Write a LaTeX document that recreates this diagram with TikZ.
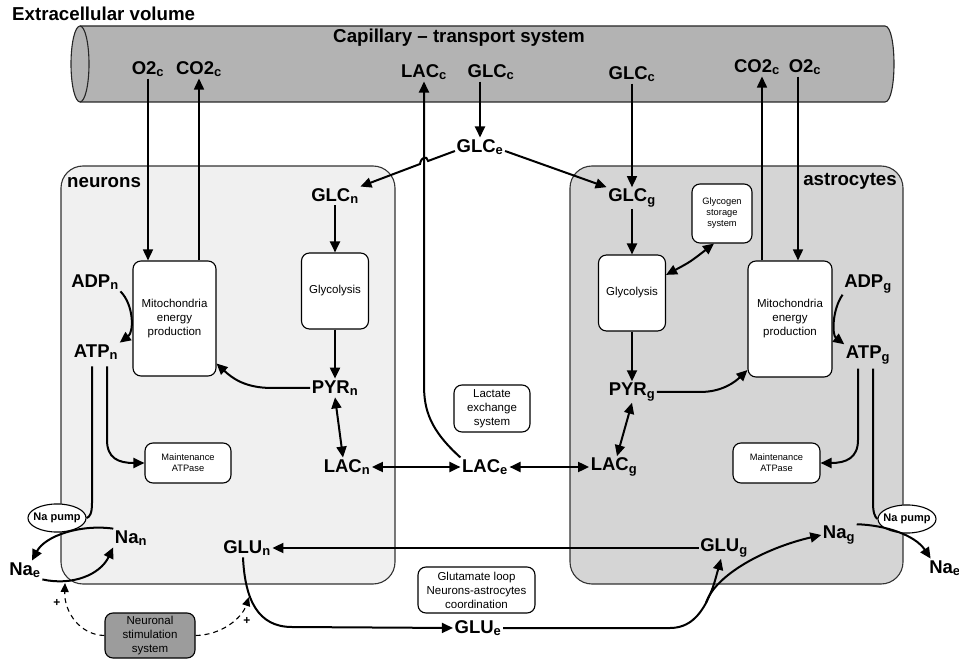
\documentclass[tikz,border=0pt]{standalone}
\usepackage{fontspec}
\setmainfont{Liberation Sans}
\usetikzlibrary{arrows.meta, calc, positioning, shapes.geometric}

\definecolor{capgray}{HTML}{B3B3B3}
\definecolor{neurgray}{HTML}{F0F0F0}
\definecolor{astrogray}{HTML}{D5D5D5}
\definecolor{stimgray}{HTML}{9C9C9C}

\begin{document}
\begin{tikzpicture}[x=1pt, y=-1pt,
    title/.style={font=\fontsize{18.7}{20}\selectfont\bfseries, inner sep=0pt},
    mol/.style={font=\fontsize{18.5}{20}\selectfont\bfseries, inner sep=1.5pt},
    proc/.style={draw, fill=white, rounded corners=8pt, align=center, inner sep=0pt, line width=1.1pt, font=\fontsize{11.5}{14}\selectfont},
    tinyproc/.style={proc, font=\fontsize{9.3}{11}\selectfont},
    pump/.style={draw, fill=white, ellipse, inner xsep=-3pt, inner ysep=5pt, line width=1.1pt, font=\fontsize{11}{13}\selectfont\bfseries},
    cell/.style={draw=black!80, line width=1.1pt, rounded corners=22pt},
    arr/.style={-{Triangle[length=11pt,width=10pt]}, line width=2pt},
    darr/.style={{Triangle[length=11pt,width=10pt]}-{Triangle[length=11pt,width=10pt]}, line width=2pt},
    capline/.style={-{Triangle[length=11pt,width=10pt]}, line width=1.6pt},
    stim/.style={-{Triangle[length=9pt,width=8pt]}, dash pattern=on 5pt off 4pt, line width=1.1pt},
    plus/.style={font=\fontsize{12}{12}\selectfont\bfseries, inner sep=0pt}]

    \useasboundingbox (0,0) rectangle (959,660);

    % capillary
    \fill[capgray] (80,26) -- (885,26) .. controls (897,26) and (897,102) .. (885,102) -- (80,102) -- cycle;
    \draw[line width=1.1pt, black!85] (80,26) -- (885,26) .. controls (897,26) and (897,102) .. (885,102) -- (80,102);
    \draw[line width=1.1pt, black!85, fill=capgray] (80,64) ellipse [x radius=9, y radius=38];

    % compartments
    \draw[cell, fill=neurgray] (61,166) rectangle (395,584);
    \draw[cell, fill=astrogray] (570,166) rectangle (903,584);

    \node[title, anchor=west] (extra) at (12,14) {Extracellular volume};
    \node[title] (capil) at (459,38) {Capillary – transport system};
    \node[title, anchor=west] (neur) at (67,183) {neurons};
    \node[title, anchor=east] (astro) at (897,181) {astrocytes};

    % capillary species
    \node[mol] (O2cL) at (148,69) {O2\textsubscript{c}};
    \node[mol] (CO2cL) at (199,69) {CO2\textsubscript{c}};
    \node[mol] (LACc) at (424,72) {LAC\textsubscript{c}};
    \node[mol] (GLCcC) at (491,72) {GLC\textsubscript{c}};
    \node[mol] (GLCcR) at (632,74) {GLC\textsubscript{c}};
    \node[mol] (CO2cR) at (757,67) {CO2\textsubscript{c}};
    \node[mol] (O2cR) at (805,67) {O2\textsubscript{c}};

    % extracellular
    \node[mol] (GLCe) at (480,147) {GLC\textsubscript{e}};
    \node[mol] (LACe) at (485,467) {LAC\textsubscript{e}};
    \node[mol] (GLUe) at (478,628) {GLU\textsubscript{e}};
    \node[mol] (Nae) at (25,570) {Na\textsubscript{e}};
    \node[mol] (Nae2) at (945,568) {Na\textsubscript{e}};
    \node[proc, minimum width=76pt, minimum height=47pt] (lactx) at (492,408.5) {Lactate\\exchange\\system};
    \node[proc, minimum width=117pt, minimum height=46pt] (gluloop) at (476.5,590) {Glutamate loop\\Neurons-astrocytes\\coordination};
    \node[proc, fill=stimgray, minimum width=90pt, minimum height=45pt] (stimbox) at (150,635.5) {Neuronal\\stimulation\\system};

    % neurons
    \node[mol] (GLCn) at (335,196) {GLC\textsubscript{n}};
    \node[proc, minimum width=67pt, minimum height=76pt] (glyn) at (335,291) {Glycolysis};
    \node[mol] (PYRn) at (335,388) {PYR\textsubscript{n}};
    \node[mol] (LACn) at (347,467) {LAC\textsubscript{n}};
    \node[proc, minimum width=83pt, minimum height=115pt] (mitn) at (174.5,318.5) {Mitochondria\\energy\\production};
    \node[mol] (ADPn) at (95,282) {ADP\textsubscript{n}};
    \node[mol] (ATPn) at (96,352) {ATP\textsubscript{n}};
    \node[tinyproc, minimum width=86pt, minimum height=40pt] (maintn) at (188,463) {Maintenance\\ATPase};
    \node[pump] (pumpn) at (57,518) {Na pump};
    \node[mol] (Nan) at (131,538) {Na\textsubscript{n}};
    \node[mol] (GLUn) at (247,548) {GLU\textsubscript{n}};

    % astrocytes
    \node[mol] (GLCg) at (632,198) {GLC\textsubscript{g}};
    \node[proc, minimum width=67pt, minimum height=76pt] (glyg) at (632,293) {Glycolysis};
    \node[tinyproc, minimum width=60pt, minimum height=59pt] (glycogen) at (722,213.5) {Glycogen\\storage\\system};
    \node[mol] (PYRg) at (632,392) {PYR\textsubscript{g}};
    \node[mol] (LACg) at (614,467) {LAC\textsubscript{g}};
    \node[proc, minimum width=84pt, minimum height=116pt] (mitg) at (790,319) {Mitochondria\\energy\\production};
    \node[mol] (ADPg) at (868,284) {ADP\textsubscript{g}};
    \node[mol] (ATPg) at (868,355) {ATP\textsubscript{g}};
    \node[tinyproc, minimum width=87pt, minimum height=40pt] (maintg) at (776.5,463) {Maintenance\\ATPase};
    \node[pump] (pumpg) at (907,519) {Na pump};
    \node[mol] (Nag) at (839,535) {Na\textsubscript{g}};
    \node[mol] (GLUg) at (724,548) {GLU\textsubscript{g}};

    % free ends
    \coordinate (co2r) at ([xshift=5pt]CO2cR.south);
    \coordinate (o2r) at ([xshift=-7pt]O2cR.south);
    \coordinate (atpnA) at ([xshift=-4pt,yshift=-5pt]ATPn.south);
    \coordinate (atpnB) at ([xshift=11pt,yshift=-5pt]ATPn.south);
    \coordinate (atpgA) at ([xshift=-10pt,yshift=-3pt]ATPg.south);
    \coordinate (atpgB) at ([xshift=5pt,yshift=-3pt]ATPg.south);
    \coordinate (stimNa) at (65,583);
    \coordinate (stimGlu) at (249,597);
    \coordinate (gsplit) at (706,603);

    % capillary exchanges
    \draw[capline] (O2cL.south) -- (O2cL.south |- mitn.north);
    \draw[capline] (CO2cL.south |- mitn.north) -- (CO2cL.south);
    \draw[capline] (co2r |- mitg.north) -- (co2r);
    \draw[capline] (o2r) -- (o2r |- mitg.north);
    \draw[arr] (GLCe.north |- GLCcC.south) -- (GLCe.north);
    \draw[capline] (GLCcR.south) -- (GLCg.north);
    \draw[arr] (LACe.north west) .. controls (430,430) and (424,410) .. (424,385) -- (LACc.south);

    % glucose uptake
    \draw[arr] ([yshift=-4pt]GLCe.west) -- (428,161) .. controls (427,155) and (421,157) .. (420,164) -- (GLCn.north east);
    \draw[arr] ([yshift=-4pt]GLCe.east) -- (GLCg.north west);

    % neuron metabolism
    \draw[arr] (GLCn.south) -- (glyn.north);
    \draw[arr] (glyn.south) -- (PYRn.north);
    \draw[arr] (PYRn.west) -- (272,388) .. controls (245,388) and (232,378) .. ([yshift=-45pt]mitn.east);
    \draw[darr] (PYRn.south) -- ([xshift=-4pt]LACn.north);
    \draw[arr] (ADPn.south east) .. controls (134,305) and (134,332) .. (ATPn.north east);
    \draw[arr] (atpnB) -- (107,440) .. controls (107,458) and (118,463) .. (maintn.west);
    \draw[line width=2pt] (atpnA) -- (92,503) .. controls (92,513) and (90,517) .. (pumpn.east);

    % astrocyte metabolism
    \draw[arr] (GLCg.south) -- (glyg.north);
    \draw[arr] (glyg.south) -- (PYRg.north);
    \draw[darr] (glyg.28) .. controls (690,262) .. ([xshift=-8pt]glycogen.south);
    \draw[arr] (PYRg.east) -- (700,392) .. controls (722,392) and (735,382) .. ([yshift=-51pt]mitg.west);
    \draw[darr] (PYRg.south) -- ([xshift=3pt]LACg.north);
    \draw[arr] (ADPg.south west) .. controls (832,310) and (832,335) .. (ATPg.north west);
    \draw[arr] (atpgA) -- (858,440) .. controls (858,458) and (846,463) .. (maintg.east);
    \draw[line width=2pt] (atpgB) -- (873,503) .. controls (873,513) and (875,517) .. (pumpg.west);

    % lactate exchange
    \draw[darr] (LACn.east) -- (LACe.west);
    \draw[darr] (LACe.east) -- (LACg.west);

    % sodium
    \draw[arr] (Nan.north west) .. controls (80,524) and (45,536) .. ([xshift=7pt]Nae.north);
    \draw[arr] (Nae.south east) .. controls (72,586) and (100,575) .. (Nan.south west);
    \draw[arr] (Nag.north east) .. controls (885,525) and (915,535) .. ([xshift=3pt]Nae2.north west);

    % glutamate loop
    \draw[arr] (GLUg.west) -- (GLUn.east);
    \draw[arr] ([xshift=-4pt]GLUn.south) .. controls (245,600) and (258,627) .. (292,627) -- (GLUe.west);
    \draw[arr] (GLUe.east) -- (670,628) .. controls (690,628) and (700,614) .. (gsplit) .. controls (715,575) and (765,548) .. (Nag.west);
    \draw[arr] (gsplit) .. controls (713,588) .. ([xshift=-3pt]GLUg.south);

    % stimulation
    \draw[stim] (stimbox.west) .. controls (80,635) and (64,612) .. (stimNa);
    \draw[stim] (stimbox.east) .. controls (222,635) and (242,618) .. (stimGlu);
    \node[plus] (plusNa) at (57,603) {+};
    \node[plus] (plusGlu) at (247,621) {+};

\end{tikzpicture}
\end{document}
